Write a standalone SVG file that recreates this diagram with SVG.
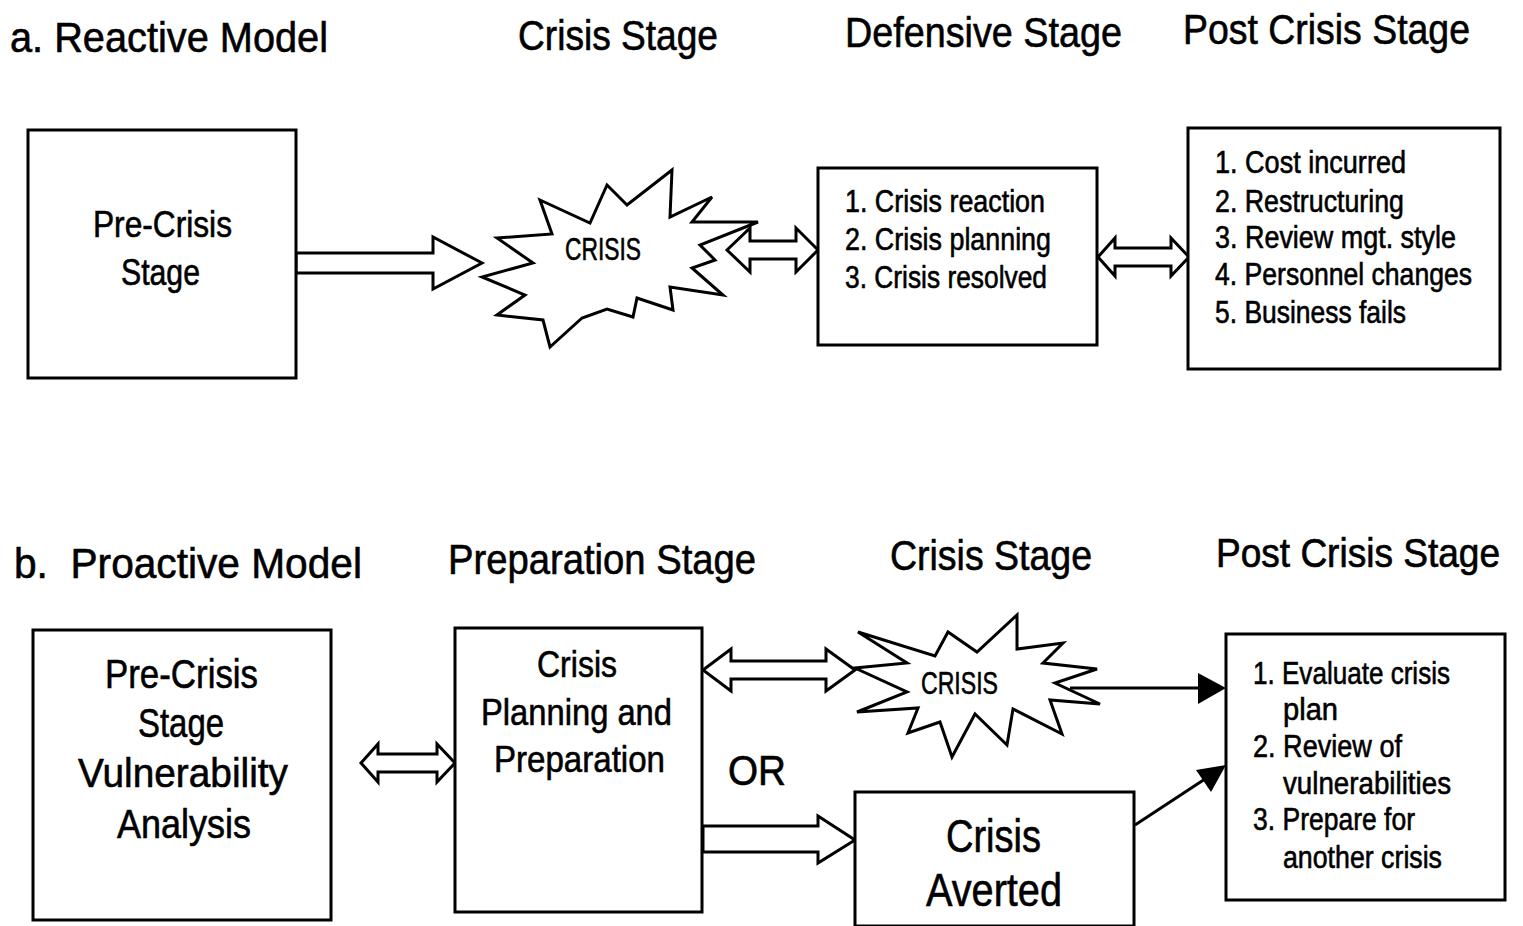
<svg xmlns="http://www.w3.org/2000/svg" width="1523" height="926" viewBox="0 0 1523 926">
<style>
text{font-family:"Liberation Sans Narrow","Liberation Sans",Arial,sans-serif;fill:#000;stroke:#000;stroke-width:0.6px;}
.t{font-size:42px;}
.box{fill:#fff;stroke:#000;stroke-width:3;}
.burst{fill:#fff;stroke:#000;stroke-width:3;stroke-linejoin:miter;}
.hollow{fill:#fff;stroke:#000;stroke-width:3;stroke-linejoin:miter;}
.line{stroke:#000;stroke-width:3;fill:none;}
.m{font-size:31px;}
</style>
<rect width="1523" height="926" fill="#fff"/>

<g id="titles">
<text class="t" x="10" y="52" textLength="318" lengthAdjust="spacingAndGlyphs">a. Reactive Model</text>
<text class="t" x="518" y="50" textLength="200" lengthAdjust="spacingAndGlyphs">Crisis Stage</text>
<text class="t" x="845" y="47" textLength="277" lengthAdjust="spacingAndGlyphs">Defensive Stage</text>
<text class="t" x="1183" y="44" textLength="287" lengthAdjust="spacingAndGlyphs">Post Crisis Stage</text>
<text class="t" x="14" y="578" textLength="348" lengthAdjust="spacingAndGlyphs" xml:space="preserve">b.  Proactive Model</text>
<text class="t" x="448" y="574" textLength="308" lengthAdjust="spacingAndGlyphs">Preparation Stage</text>
<text class="t" x="890" y="570" textLength="202" lengthAdjust="spacingAndGlyphs">Crisis Stage</text>
<text x="0" y="0" font-size="37" transform="translate(1216,567) scale(1,1.12)" textLength="284" lengthAdjust="spacingAndGlyphs">Post Crisis Stage</text>
</g>

<g id="connectors">
<polygon class="hollow" points="296,253 433,253 433,237 482,263 433,289 433,273 296,273"/>
<polygon class="hollow" points="727,250 750,228 750,241 796,241 796,228 818,250 796,272 796,259 750,259 750,272"/>
<polygon class="hollow" points="1098,257 1115,238 1115,248 1171,248 1171,238 1189,257 1171,276 1171,266 1115,266 1115,276"/>
<polygon class="hollow" points="361,763 378,744 378,754 437,754 437,744 455,763 437,782 437,772 378,772 378,782"/>
<polygon class="hollow" points="703,670 731,649 731,661 826,661 826,649 855,670 826,691 826,679 731,679 731,691"/>
<polygon class="hollow" points="703,826 818,826 818,816 855,840 818,863 818,852 703,852"/>
<line class="line" x1="1070" y1="688" x2="1200" y2="688"/>
<polygon points="1198,673 1226,688 1198,704" fill="#000"/>
<line class="line" x1="1135" y1="825" x2="1205" y2="779"/>
<polygon points="1196,770 1226,765 1211,792" fill="#000"/>
</g>

<g id="pre-crisis-a">
<rect class="box" x="28" y="130" width="268" height="248"/>
<text x="93" y="237" font-size="37" textLength="139" lengthAdjust="spacingAndGlyphs">Pre-Crisis</text>
<text x="121" y="285" font-size="37" textLength="79" lengthAdjust="spacingAndGlyphs">Stage</text>
</g>

<g id="crisis-a">
<polygon class="burst" points="497,238 552,234 540,200 590,223 607,185 627,205 672,170 670,217 712,197 692,222 758,222 700,245 715,260 692,268 723,295 670,287 673,310 637,298 633,317 607,309 582,318 550,347 543,320 497,315 525,295 482,277 533,263"/>
<text x="565" y="260" font-size="32" textLength="76" lengthAdjust="spacingAndGlyphs">CRISIS</text>
</g>

<g id="defensive">
<rect class="box" x="818" y="168" width="279" height="177"/>
<text class="m" x="845" y="212" textLength="200" lengthAdjust="spacingAndGlyphs">1. Crisis reaction</text>
<text class="m" x="845" y="250" textLength="206" lengthAdjust="spacingAndGlyphs">2. Crisis planning</text>
<text class="m" x="845" y="288" textLength="202" lengthAdjust="spacingAndGlyphs">3. Crisis resolved</text>
</g>

<g id="post-crisis-a">
<rect class="box" x="1188" y="128" width="312" height="241"/>
<text class="m" x="1215" y="173" textLength="191" lengthAdjust="spacingAndGlyphs">1. Cost incurred</text>
<text class="m" x="1215" y="212" textLength="189" lengthAdjust="spacingAndGlyphs">2. Restructuring</text>
<text class="m" x="1215" y="248" textLength="241" lengthAdjust="spacingAndGlyphs">3. Review mgt. style</text>
<text class="m" x="1215" y="285" textLength="257" lengthAdjust="spacingAndGlyphs">4. Personnel changes</text>
<text class="m" x="1215" y="323" textLength="191" lengthAdjust="spacingAndGlyphs">5. Business fails</text>
</g>

<g id="pre-crisis-b">
<rect class="box" x="33" y="630" width="298" height="290"/>
<text x="105" y="688" font-size="41" textLength="153" lengthAdjust="spacingAndGlyphs">Pre-Crisis</text>
<text x="138" y="737" font-size="41" textLength="86" lengthAdjust="spacingAndGlyphs">Stage</text>
<text x="78" y="787" font-size="41" textLength="210" lengthAdjust="spacingAndGlyphs">Vulnerability</text>
<text x="117" y="838" font-size="41" textLength="134" lengthAdjust="spacingAndGlyphs">Analysis</text>
</g>

<g id="planning">
<rect class="box" x="455" y="628" width="247" height="284"/>
<text x="537" y="677" font-size="37" textLength="80" lengthAdjust="spacingAndGlyphs">Crisis</text>
<text x="481" y="725" font-size="37" textLength="191" lengthAdjust="spacingAndGlyphs">Planning and</text>
<text x="494" y="772" font-size="37" textLength="171" lengthAdjust="spacingAndGlyphs">Preparation</text>
</g>

<g id="or-label">
<text x="728" y="785" font-size="42" textLength="58" lengthAdjust="spacingAndGlyphs">OR</text>
</g>

<g id="crisis-b">
<polygon class="burst" points="858,632 935,656 948,632 977,652 1017,615 1017,649 1063,643 1043,663 1097,669 1055,683 1100,704 1050,700 1062,734 1013,709 1007,745 975,714 952,757 940,722 908,733 918,708 857,712 907,692 855,668 907,663"/>
<text x="921" y="694" font-size="32" textLength="77" lengthAdjust="spacingAndGlyphs">CRISIS</text>
</g>

<g id="averted">
<rect class="box" x="855" y="792" width="279" height="134"/>
<text x="946" y="852" font-size="46" textLength="95" lengthAdjust="spacingAndGlyphs">Crisis</text>
<text x="926" y="906" font-size="46" textLength="136" lengthAdjust="spacingAndGlyphs">Averted</text>
</g>

<g id="post-crisis-b">
<rect class="box" x="1226" y="634" width="279" height="266"/>
<text class="m" x="1253" y="684" textLength="197" lengthAdjust="spacingAndGlyphs">1. Evaluate crisis</text>
<text class="m" x="1283" y="720" textLength="55" lengthAdjust="spacingAndGlyphs">plan</text>
<text class="m" x="1253" y="757" textLength="149" lengthAdjust="spacingAndGlyphs">2. Review of</text>
<text class="m" x="1283" y="794" textLength="168" lengthAdjust="spacingAndGlyphs">vulnerabilities</text>
<text class="m" x="1253" y="830" textLength="162" lengthAdjust="spacingAndGlyphs">3. Prepare for</text>
<text class="m" x="1283" y="868" textLength="159" lengthAdjust="spacingAndGlyphs">another crisis</text>
</g>
</svg>
